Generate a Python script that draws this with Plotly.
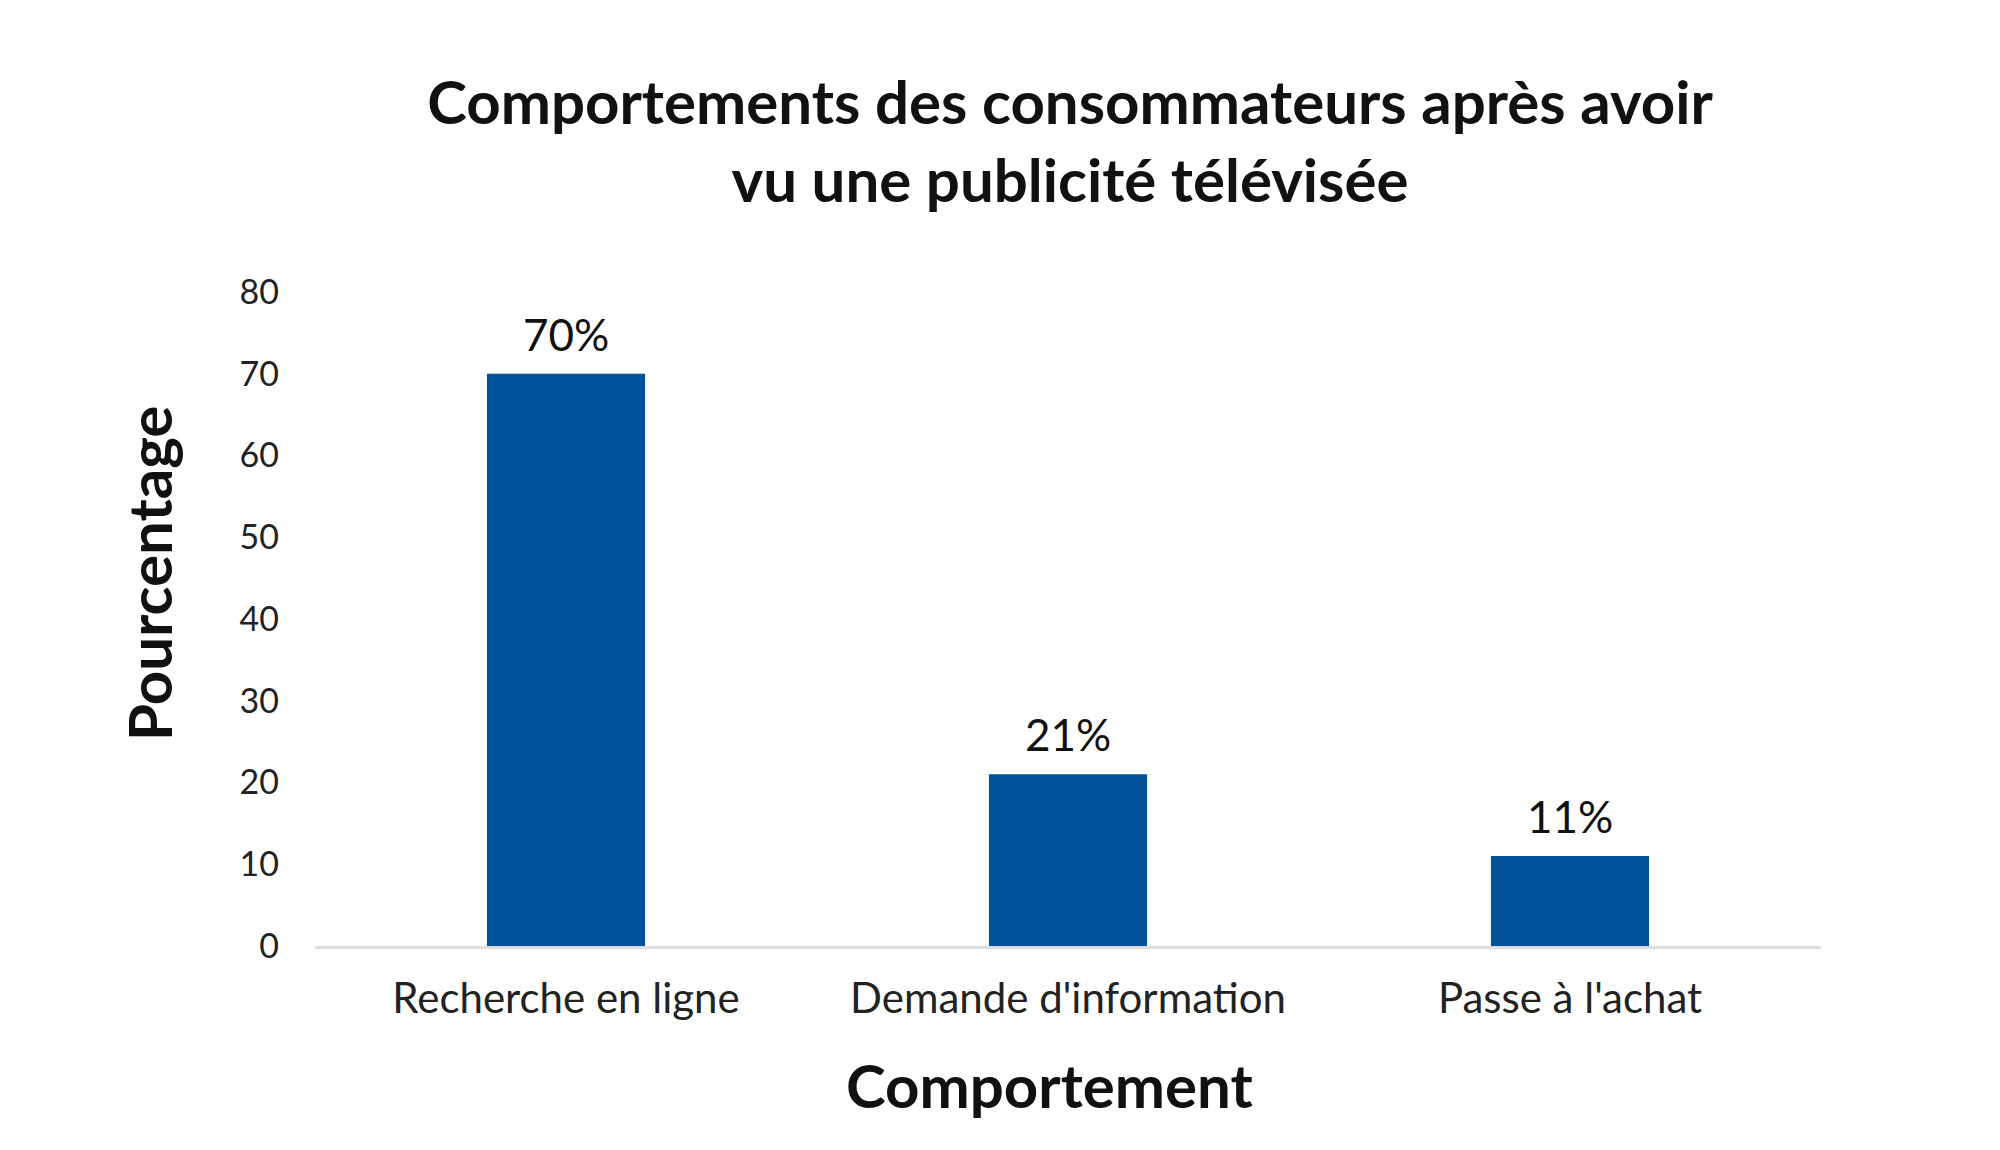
import plotly.graph_objects as go

categories = ["Recherche en ligne", "Demande d'information", "Passe à l'achat"]
values = [70, 21, 11]
labels = ["70%", "21%", "11%"]
y_ticks = [0, 10, 20, 30, 40, 50, 60, 70, 80]

FONT = "Lato"
L, R, T, B = 315, 179, 292, 204  # plot area: x 315-1821, y 292-946
PW, PH = 2000 - L - R, 1150 - T - B

fig = go.Figure()
fig.add_trace(go.Bar(
    x=categories, y=values, width=0.315,
    marker=dict(color="#00529B", line=dict(width=0)),
    hoverinfo="skip",
))

for c, v, t in zip(categories, values, labels):
    fig.add_annotation(x=c, y=v, text=t, showarrow=False, yanchor="bottom",
                       yshift=12, font=dict(family=FONT, size=44, color="#111111"))

# axis titles
fig.add_annotation(xref="paper", yref="paper", x=(1049 - L) / PW, y=(946 - 1085) / PH,
                   text="<b>Comportement</b>", showarrow=False,
                   xanchor="center", yanchor="middle",
                   font=dict(family=FONT, size=60, color="#111111"))
fig.add_annotation(xref="paper", yref="paper", x=(149 - L) / PW, y=(946 - 574) / PH,
                   text="<b>Pourcentage</b>", showarrow=False, textangle=-90,
                   xanchor="center", yanchor="middle",
                   font=dict(family=FONT, size=60, color="#111111"))

fig.update_layout(
    width=2000, height=1150,
    paper_bgcolor="white", plot_bgcolor="white",
    margin=dict(l=L, r=R, t=T, b=B),
    showlegend=False,
    title=dict(
        text="<b>Comportements des consommateurs après avoir<br>vu une publicité télévisée</b>",
        xref="paper", x=(1070 - L) / PW, xanchor="center",
        yref="container", y=1 - 124 / 1150, yanchor="middle",
        font=dict(family=FONT, size=60, color="#111111"),
    ),
    xaxis=dict(
        range=[-0.5, 2.5], showgrid=False, showline=True, linecolor="#DDDDDD",
        linewidth=3, ticks="", ticklabelstandoff=14,
        tickfont=dict(family=FONT, size=42, color="#222222"),
    ),
    yaxis=dict(
        range=[0, 80], tickvals=y_ticks, showgrid=False, zeroline=False,
        showline=False, ticks="", ticklabelstandoff=35,
        tickfont=dict(family=FONT, size=34, color="#222222"),
    ),
)

fig.write_html("out.html", config={"displayModeBar": False},
               post_script="document.body.style.margin='0';")
